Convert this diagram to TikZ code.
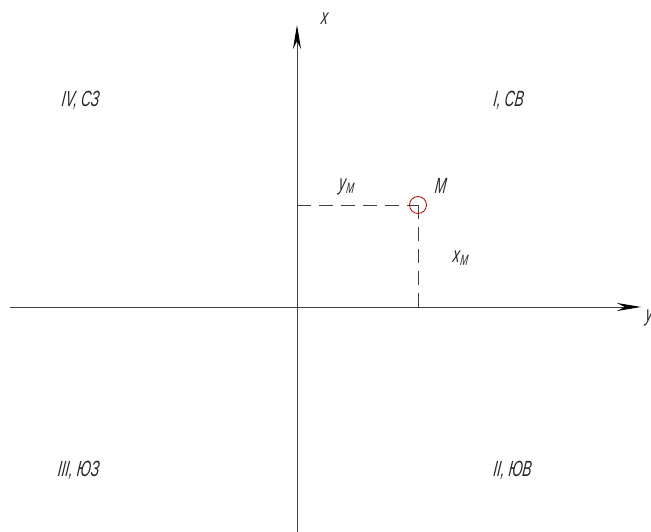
\documentclass[tikz,border=0pt]{standalone}
\usepackage{fontspec}
\setmainfont{Liberation Sans}[ItalicFont={Liberation Sans Italic},FakeStretch=0.62,ItalicFeatures={FakeSlant=0.12}]
\usetikzlibrary{arrows.meta}
\tikzset{
  axis/.style={draw=black!75,line width=0.9pt,-{Stealth[length=24pt,width=8pt,color=black]}},
  dashline/.style={draw=black!75,line width=0.9pt,dash pattern=on 14pt off 8pt},
  lbl/.style={font=\fontsize{22}{24}\selectfont\itshape,inner sep=0pt,text=black!85}
}
\newcommand{\subM}{\kern0.5pt\raisebox{-3pt}{\fontsize{15}{16}\selectfont M}}
\begin{document}
\begin{tikzpicture}[x=1pt,y=1pt]
    \path[use as bounding box] (0,0) rectangle (651,532);
    % Axes
    \coordinate (xbot) at (297,0);
    \coordinate (xtop) at (297,507);
    \coordinate (yleft) at (10,225);
    \coordinate (yright) at (641,225);
    \draw[axis] (xbot) -- (xtop);
    \draw[axis] (yleft) -- (yright);
    \node[lbl] (xlab) at (324,513) {x};
    \node[lbl,anchor=west] (ylab) at (645,214) {y};

    % Point M
    \coordinate (M) at (418,327);
    \coordinate (My) at (297,327);
    \coordinate (Mx) at (418,225);
    \draw[dashline] (My) -- (M);
    \draw[dashline] (M) -- (Mx);
    \node[circle,draw=red!70!black,fill=none,line width=0.8pt,minimum size=17pt,inner sep=0pt]
        (Mcirc) at (M) {};
    \node[lbl] (Mlab) at (440,346) {M};
    \node[lbl] (yM) at (346,345) {y\subM};
    \node[lbl] (xM) at (460,274) {x\subM};

    % Quadrants
    \node[lbl] (q4) at (80,432) {IV, СЗ};
    \node[lbl] (q1) at (508,432) {I, СВ};
    \node[lbl] (q3) at (78,62) {III, ЮЗ};
    \node[lbl] (q2) at (512,62) {II, ЮВ};
\end{tikzpicture}
\end{document}
